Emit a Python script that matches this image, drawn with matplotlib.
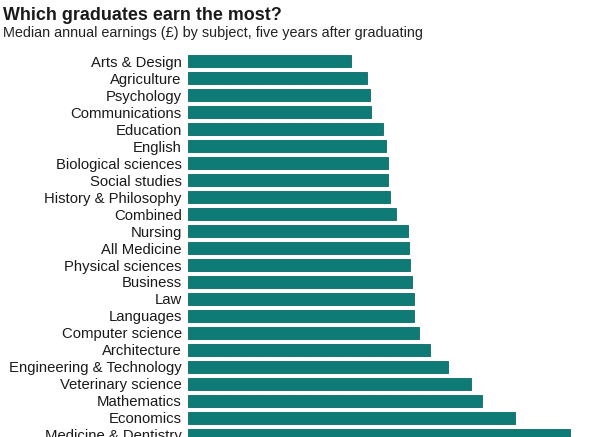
import matplotlib.pyplot as plt

plt.rcParams['font.family'] = ['Liberation Sans', 'DejaVu Sans']

subjects = [
    "Arts & Design", "Agriculture", "Psychology", "Communications", "Education",
    "English", "Biological sciences", "Social studies", "History & Philosophy",
    "Combined", "Nursing", "All Medicine", "Physical sciences", "Business", "Law",
    "Languages", "Computer science", "Architecture", "Engineering & Technology",
    "Veterinary science", "Mathematics", "Economics", "Medicine & Dentistry",
]
earnings = [
    20000, 22000, 22300, 22400, 23900,
    24300, 24500, 24500, 24800,
    25500, 26900, 27100, 27200, 27500, 27700,
    27700, 28300, 29700, 31900,
    34700, 36000, 40000, 46700,
]

W, H = 600, 437
fig = plt.figure(figsize=(W / 100, H / 100), dpi=100)

# axes spans from bar start (x=187.5px) to right edge, y=50px to bottom (last bar cut off)
ax = fig.add_axes([187.5 / W, 0, 1 - 187.5 / W, 1 - 50 / H])
pos = list(range(len(subjects)))
ax.barh(pos, earnings, height=0.68, color='#0f7b77', edgecolor='#0b6a66', linewidth=0.6)
ax.set_xlim(0, 412.5 * 122.25)
ax.set_ylim(22.12, -0.65)
ax.set_yticks(pos)
ax.set_yticklabels(subjects, fontsize=10.7, color='#1a1a1a')
ax.tick_params(axis='y', length=0, pad=4.2)
ax.set_xticks([])
for s in ax.spines.values():
    s.set_visible(False)

fig.text(3 / W, 1 - 19.5 / H, "Which graduates earn the most?", fontsize=12.9,
         fontweight='bold', color='#1a1a1a', va='baseline', ha='left')
fig.text(3 / W, 1 - 37.5 / H, "Median annual earnings (£) by subject, five years after graduating",
         fontsize=10.4, color='#222222', va='baseline', ha='left')

fig.savefig('out.png', dpi=100)
